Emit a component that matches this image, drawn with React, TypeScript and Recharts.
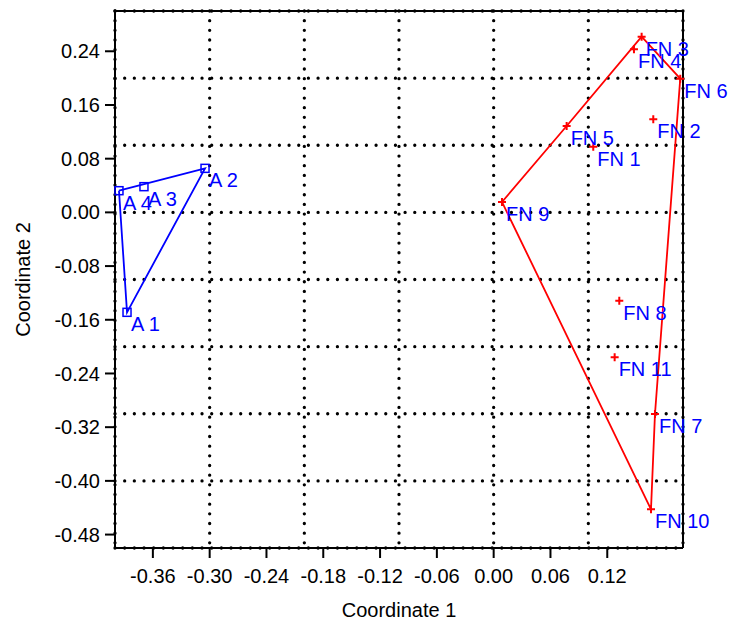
import { ScatterChart, Scatter, XAxis, YAxis, CartesianGrid, ReferenceLine, Label } from "recharts";

const FONT = "Arial, 'Liberation Sans', sans-serif";
const BLUE = "#0000ff";
const RED = "#ff0000";

// group A
const aLabels = ["A 1", "A 2", "A 3", "A 4"];
const aX = [-0.3873, -0.3049, -0.3694, -0.3958];
const aY = [-0.1489, 0.0656, 0.0383, 0.0323];
const aHullOrder = [3, 1, 0, 3];

// group FN
const fnLabels = ["FN 1", "FN 2", "FN 3", "FN 4", "FN 5", "FN 6", "FN 7", "FN 8", "FN 9", "FN 10", "FN 11"];
const fnX = [0.1052, 0.1686, 0.1563, 0.1482, 0.0771, 0.1971, 0.1704, 0.1327, 0.0088, 0.1662, 0.1278];
const fnY = [0.0979, 0.1387, 0.2617, 0.2429, 0.1287, 0.1992, -0.3004, -0.1316, 0.0155, -0.4424, -0.2159];
const fnHullOrder = [8, 4, 2, 5, 6, 9, 8];

const xTicks = [-0.36, -0.3, -0.24, -0.18, -0.12, -0.06, 0, 0.06, 0.12];
const yTicks = [0.24, 0.16, 0.08, 0, -0.08, -0.16, -0.24, -0.32, -0.4, -0.48];
const gridX = [-0.4, -0.3, -0.2, -0.1, 0, 0.1, 0.2];
const gridY = [0.3, 0.2, 0.1, 0, -0.1, -0.2, -0.3, -0.4, -0.5];

const aPoints = aLabels.map((name, i) => ({ x: aX[i], y: aY[i], name }));
const fnPoints = fnLabels.map((name, i) => ({ x: fnX[i], y: fnY[i], name }));
const aHull = aHullOrder.map((i) => aPoints[i]);
const fnHull = fnHullOrder.map((i) => fnPoints[i]);

const fmt = (v: number) => (Math.abs(v) < 1e-9 ? "0.00" : v.toFixed(2));

const PointLabel = ({ cx, cy, name }: any) => (
  <text x={cx + 4} y={cy + 19} fill={BLUE} fontSize={20} fontFamily={FONT}>
    {name}
  </text>
);

const SquareMark = (props: any) => {
  const { cx, cy, payload } = props;
  return (
    <g>
      <rect x={cx - 4} y={cy - 4} width={8} height={8} fill="none" stroke={BLUE} strokeWidth={1.5} />
      <PointLabel cx={cx} cy={cy} name={payload.name} />
    </g>
  );
};

const PlusMark = (props: any) => {
  const { cx, cy, payload } = props;
  return (
    <g>
      <path d={`M${cx - 4},${cy}H${cx + 4}M${cx},${cy - 4}V${cy + 4}`} stroke={RED} strokeWidth={2} />
      <PointLabel cx={cx} cy={cy} name={payload.name} />
    </g>
  );
};

const NoMark = () => <g />;

const YTitle = (props: any) => {
  const vb = props.viewBox;
  const x = vb.x + 14.5;
  const y = vb.y + vb.height / 2;
  return (
    <text x={x} y={y} transform={`rotate(-90 ${x} ${y})`} textAnchor="middle" fill="#000" fontSize={20} fontFamily={FONT}>
      Coordinate 2
    </text>
  );
};

export default function App() {
  const tickStyle = { fill: "#000", fontSize: 20, fontFamily: FONT };
  return (
    <div style={{ position: "absolute", left: 0, top: 0, width: 734, height: 622, background: "#fff" }}>
      <ScatterChart width={734} height={622} margin={{ top: 11, right: 51, bottom: 0, left: 15 }}>
        <ReferenceLine y={0.3} stroke="#000" strokeWidth={2} />
        <ReferenceLine x={0.2} stroke="#000" strokeWidth={2} />
        <XAxis
          type="number"
          dataKey="x"
          domain={[-0.4, 0.2]}
          ticks={xTicks}
          interval={0}
          tickFormatter={fmt}
          tick={tickStyle}
          tickSize={10}
          tickMargin={11}
          axisLine={{ stroke: "#000", strokeWidth: 2 }}
          tickLine={{ stroke: "#000", strokeWidth: 2 }}
          height={74}
        >
          <Label value="Coordinate 1" position="insideBottom" offset={5} fill="#000" fontSize={20} fontFamily={FONT} />
        </XAxis>
        <YAxis
          type="number"
          dataKey="y"
          domain={[-0.5, 0.3]}
          ticks={yTicks}
          interval={0}
          tickFormatter={fmt}
          tick={tickStyle}
          tickSize={10}
          tickMargin={5}
          axisLine={{ stroke: "#000", strokeWidth: 2 }}
          tickLine={{ stroke: "#000", strokeWidth: 2 }}
          width={100}
        >
          <Label content={YTitle} />
        </YAxis>
        <CartesianGrid
          horizontalValues={gridY}
          verticalValues={gridX}
          stroke="#000"
          strokeWidth={3.3}
          strokeLinecap="round"
          strokeDasharray="0 9.67"
        />
        <Scatter data={aHull} line={{ stroke: BLUE, strokeWidth: 1.8 }} shape={NoMark} isAnimationActive={false} />
        <Scatter data={fnHull} line={{ stroke: RED, strokeWidth: 1.8 }} shape={NoMark} isAnimationActive={false} />
        <Scatter data={aPoints} shape={SquareMark} isAnimationActive={false} />
        <Scatter data={fnPoints} shape={PlusMark} isAnimationActive={false} />
      </ScatterChart>
    </div>
  );
}
